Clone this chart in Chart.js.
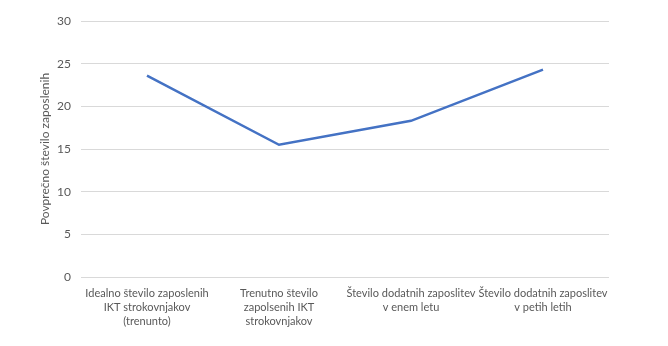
<!DOCTYPE html>
<html>
<head>
<meta charset="utf-8">
<script src="https://cdn.jsdelivr.net/npm/chart.js@4"></script>
<style>
  html, body { margin: 0; padding: 0; background: #fff; }
  #wrap { width: 668px; height: 346px; }
</style>
</head>
<body>
<div id="wrap"><canvas id="chart" width="668" height="346"></canvas></div>
<script>
// ---------- Data ----------
const CATEGORIES = [
  ['Idealno število zaposlenih', 'IKT strokovnjakov', '(trenunto)'],
  ['Trenutno število', 'zapolsenih IKT', 'strokovnjakov'],
  ['Število dodatnih zaposlitev', 'v enem letu'],
  ['Število dodatnih zaposlitev', 'v petih letih']
];
const VALUES = [23.6, 15.5, 18.3, 24.3];
const Y_TITLE = 'Povprečno število zaposlenih';

const font = { family: "Lato, 'Open Sans', sans-serif", size: 12, lineHeight: 1.15 };
const xFont = { family: "Lato, 'Open Sans', sans-serif", size: 11, lineHeight: 1.25 };
const textColor = '#595959';

new Chart(document.getElementById('chart'), {
  type: 'line',
  data: {
    labels: CATEGORIES,
    datasets: [{
      data: VALUES,
      borderColor: '#4472C4',
      borderWidth: 2.5,
      pointRadius: 0,
      tension: 0,
      fill: false
    }]
  },
  options: {
    responsive: false,
    animation: false,
    layout: { padding: { top: 21, right: 59, bottom: 0, left: 38 } },
    plugins: { legend: { display: false }, tooltip: { enabled: false } },
    scales: {
      x: {
        offset: true,
        grid: { display: false },
        border: { display: false },
        ticks: { color: textColor, font: xFont, maxRotation: 0, autoSkip: false, padding: 2 },
        afterFit: (s) => { s.height = 69; }
      },
      y: {
        min: 0, max: 30,
        ticks: { stepSize: 5, color: textColor, font: font, padding: 10 },
        grid: { color: '#D9D9D9', drawTicks: false },
        border: { display: false },
        title: { display: true, text: Y_TITLE, color: textColor, font: font, padding: { top: 0, bottom: 3 } },
        afterFit: (s) => { s.width = 43; }
      }
    }
  }
});
</script>
</body>
</html>
